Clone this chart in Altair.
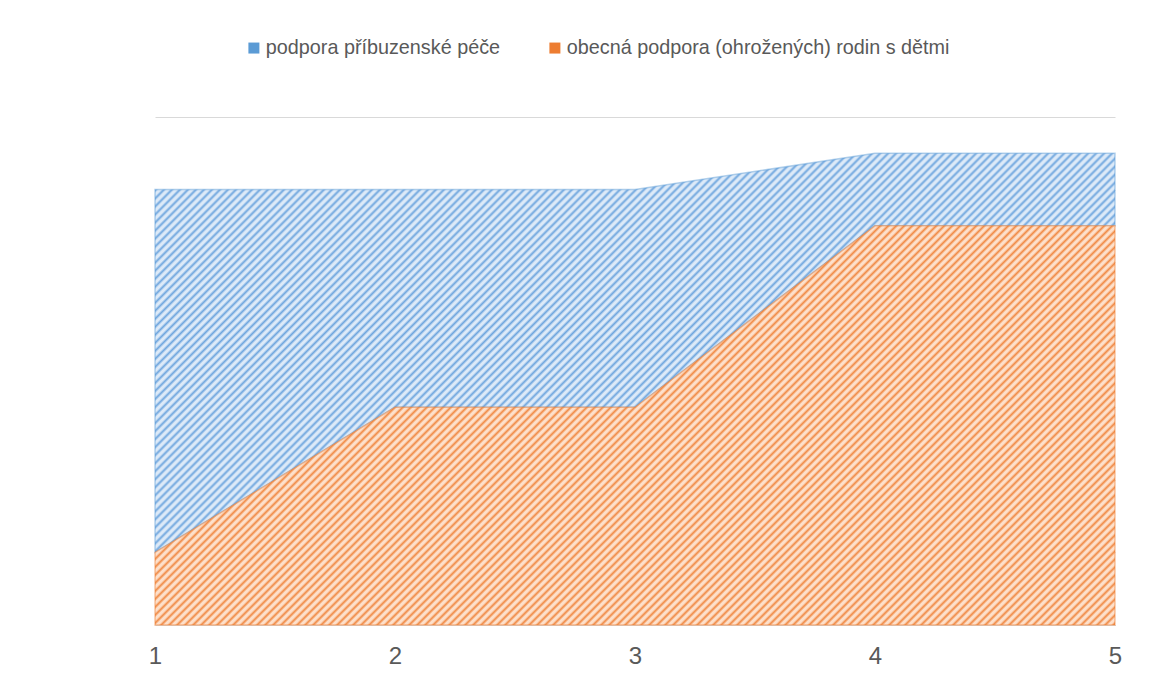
import altair as alt
import pandas as pd

# ---- data ----
x_vals = [1, 2, 3, 4, 5]
pribuzenska = [5, 3, 3, 1, 1]          # podpora příbuzenské péče (upper band)
obecna = [1, 3, 3, 5.5, 5.5]           # obecná podpora (ohrožených) rodin s dětmi (lower band)
series_names = ["podpora příbuzenské péče", "obecná podpora (ohrožených) rodin s dětmi"]
series_colors = ["#5B9BD5", "#ED7D31"]
y_ticks = [0, 1, 2, 3, 4, 5, 6, 7]

df = pd.DataFrame({"x": x_vals, "blue": pribuzenska, "orange": obecna})
long_df = pd.DataFrame({
    "x": x_vals * 2,
    "series": [series_names[0]] * len(x_vals) + [series_names[1]] * len(x_vals),
    "v": pribuzenska + obecna,
})

PLOT_W, PLOT_H = 960, 508


def stripes(light, dark, w, h, period=8):
    """Linear gradient with many stops that draws '/' diagonal hatching."""
    total = w + h
    n = int(total / period) + 2
    stops = []
    for k in range(n):
        base = k * period / total
        for frac, col in [(0.0, light), (0.3, light), (0.65, dark)]:
            off = base + frac * period / total
            if off <= 1:
                stops.append(alt.GradientStop(offset=round(off, 5), color=col))
    s = total / (w * w + h * h)
    return alt.LinearGradient(gradient="linear", stops=stops,
                              x1=0, y1=0, x2=round(w * s, 6), y2=round(h * s, 6))


blue_fill = stripes("#DDEAF8", "#6FA6DE", 960, 398)
orange_fill = stripes("#FDE0CB", "#F08A45", 960, 399)

x_enc = alt.X(
    "x:Q",
    scale=alt.Scale(domain=[1, 5], nice=False, zero=False),
    axis=alt.Axis(values=x_vals, format="d", title=None, grid=False, ticks=False,
                  tickSize=0, domain=True, domainColor="#D9D9D9", domainWidth=1,
                  labelFontSize=24, labelColor="#595959", labelFont="Liberation Sans",
                  labelPadding=19, labelFlush=False),
)
y_scale = alt.Scale(domain=[0, 7], nice=False, zero=True)
y_axis = alt.Axis(values=y_ticks, labels=False, ticks=False, domain=False, grid=True,
                  gridColor="#D9D9D9", gridWidth=1, title=None)

blue_layer = (
    alt.Chart(df)
    .transform_calculate(total="datum.orange + datum.blue")
    .mark_area(fill=blue_fill, stroke="#5B9BD5", strokeWidth=1.5, strokeOpacity=0.45)
    .encode(x=x_enc, y=alt.Y("total:Q", scale=y_scale, axis=y_axis), y2="orange:Q")
)

orange_layer = (
    alt.Chart(df)
    .mark_area(fill=orange_fill, stroke="#ED7D31", strokeWidth=1.5, strokeOpacity=0.45)
    .encode(x=x_enc, y=alt.Y("orange:Q", scale=y_scale, axis=y_axis))
)

legend_layer = (
    alt.Chart(long_df)
    .mark_square(opacity=0, size=1)
    .encode(
        x=x_enc,
        y=alt.Y("v:Q", scale=y_scale, axis=y_axis),
        color=alt.Color(
            "series:N",
            scale=alt.Scale(domain=series_names, range=series_colors),
            legend=alt.Legend(
                orient="none", legendX=89, legendY=-79, direction="horizontal",
                title=None, symbolType="square", symbolSize=121, symbolOpacity=1,
                symbolStrokeWidth=0, labelFontSize=19.8, labelFont="Liberation Sans",
                labelColor="#595959", labelLimit=600, columnPadding=44, labelOffset=2,
                padding=0,
            ),
        ),
    )
)

chart = (
    alt.layer(blue_layer, orange_layer, legend_layer)
    .properties(
        width=PLOT_W, height=PLOT_H,
        autosize=alt.AutoSizeParams(type="none"),
        padding={"left": 147, "top": 109, "right": 40, "bottom": 45},
        background="white",
    )
    .configure(font="Liberation Sans")
    .configure_view(strokeWidth=0, stroke="transparent")
)

chart.save("out.html", embed_options={"renderer": "svg", "actions": False})
